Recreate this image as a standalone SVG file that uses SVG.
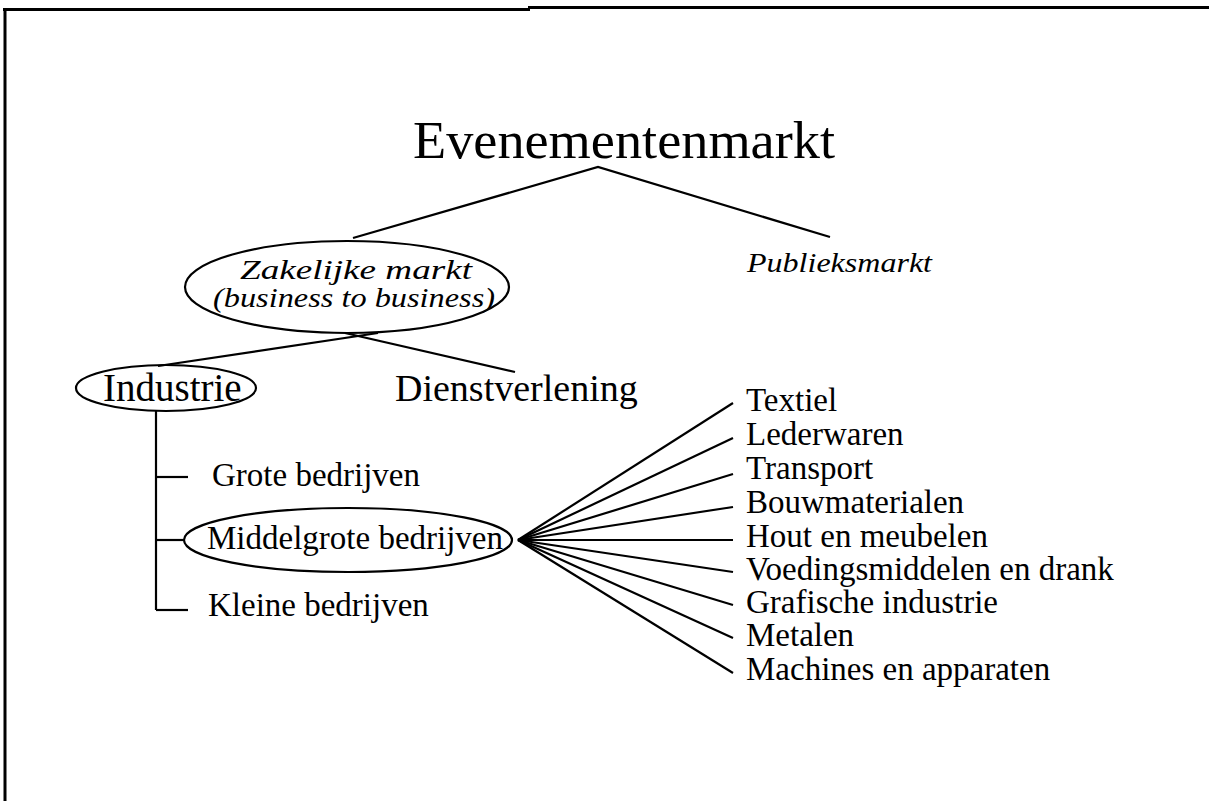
<svg xmlns="http://www.w3.org/2000/svg" width="1209" height="801" viewBox="0 0 1209 801">
<style>
text{font-family:"Liberation Serif","Times New Roman",serif;fill:#000}
.it{font-style:italic}
.ln{stroke:#000;stroke-width:2.2;fill:none}
.ell{stroke:#000;stroke-width:2.2;fill:none}
.lbl{font-size:33px}
</style>
<rect width="1209" height="801" fill="#fff"/>
<g id="frame">
<line x1="3" y1="9.5" x2="530" y2="9.5" stroke="#000" stroke-width="3"/>
<line x1="528" y1="7.5" x2="1209" y2="7.5" stroke="#000" stroke-width="3"/>
<line x1="5" y1="8" x2="5" y2="801" stroke="#000" stroke-width="3"/>
</g>
<g id="connectors">
<polyline class="ln" points="353,238 598,167 830,237"/>
<line class="ln" x1="378" y1="333" x2="158" y2="366"/>
<line class="ln" x1="345" y1="333" x2="515" y2="372"/>
<line class="ln" x1="156" y1="411" x2="156" y2="610"/>
<line class="ln" x1="156" y1="477" x2="188" y2="477"/>
<line class="ln" x1="156" y1="540" x2="185" y2="540"/>
<line class="ln" x1="156" y1="610" x2="188" y2="610"/>
<g class="ln">
<line x1="518" y1="540" x2="733" y2="403"/>
<line x1="518" y1="540" x2="733" y2="438"/>
<line x1="518" y1="540" x2="733" y2="474"/>
<line x1="518" y1="540" x2="733" y2="507"/>
<line x1="518" y1="540" x2="733" y2="540"/>
<line x1="518" y1="540" x2="733" y2="572"/>
<line x1="518" y1="540" x2="733" y2="605"/>
<line x1="518" y1="540" x2="733" y2="638"/>
<line x1="518" y1="540" x2="733" y2="673"/>
</g>
</g>
<g id="evenementenmarkt">
<text x="413" y="158" font-size="52" textLength="422" lengthAdjust="spacingAndGlyphs">Evenementenmarkt</text>
</g>
<g id="zakelijke-markt">
<ellipse class="ell" cx="347" cy="287" rx="162" ry="46"/>
<text class="it" x="240" y="279" font-size="27" textLength="232" lengthAdjust="spacingAndGlyphs">Zakelijke markt</text>
<text class="it" x="213" y="307" font-size="27" textLength="282" lengthAdjust="spacingAndGlyphs">(business to business)</text>
</g>
<g id="publieksmarkt">
<text class="it" x="747" y="272" font-size="28" textLength="185" lengthAdjust="spacingAndGlyphs">Publieksmarkt</text>
</g>
<g id="industrie">
<ellipse class="ell" cx="166" cy="388" rx="90" ry="23"/>
<text x="103" y="401" font-size="39">Industrie</text>
</g>
<g id="dienstverlening">
<text x="395" y="401" font-size="38">Dienstverlening</text>
</g>
<g id="grote-bedrijven">
<text class="lbl" x="212" y="486">Grote bedrijven</text>
</g>
<g id="middelgrote-bedrijven">
<ellipse class="ell" cx="348" cy="540" rx="164" ry="32"/>
<text class="lbl" x="207" y="549">Middelgrote bedrijven</text>
</g>
<g id="kleine-bedrijven">
<text class="lbl" x="208" y="616">Kleine bedrijven</text>
</g>
<g id="sectors">
<text id="textiel" class="lbl" x="746" y="411">Textiel</text>
<text id="lederwaren" class="lbl" x="746" y="445">Lederwaren</text>
<text id="transport" class="lbl" x="746" y="479">Transport</text>
<text id="bouwmaterialen" class="lbl" x="746" y="513">Bouwmaterialen</text>
<text id="hout" class="lbl" x="746" y="547">Hout en meubelen</text>
<text id="voeding" class="lbl" x="746" y="580">Voedingsmiddelen en drank</text>
<text id="grafisch" class="lbl" x="746" y="613">Grafische industrie</text>
<text id="metalen" class="lbl" x="746" y="646">Metalen</text>
<text id="machines" class="lbl" x="746" y="680">Machines en apparaten</text>
</g>
</svg>
